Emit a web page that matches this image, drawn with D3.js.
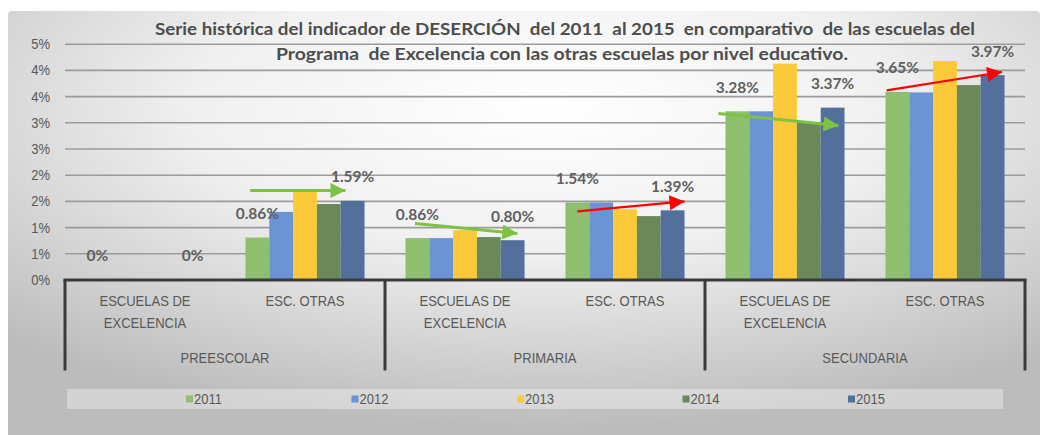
<!DOCTYPE html>
<html><head><meta charset="utf-8">
<script src="https://cdn.jsdelivr.net/npm/d3@7"></script>
<style>html,body{margin:0;padding:0;background:#fff;} svg{display:block;}</style>
</head><body><svg id="c" width="1042" height="435"></svg>
<script>
// ---------- data ----------
const groups = ["PREESCOLAR", "PRIMARIA", "SECUNDARIA"];
const subCategories = ["ESCUELAS DE|EXCELENCIA", "ESC. OTRAS"];
const categories = ["PRE-EXC", "PRE-OTR", "PRI-EXC", "PRI-OTR", "SEC-EXC", "SEC-OTR"];
const years = ["2011", "2012", "2013", "2014", "2015"];
const s2011 = [0, 0.80, 0.79, 1.47, 3.21, 3.58];
const s2012 = [0, 1.29, 0.79, 1.47, 3.21, 3.57];
const s2013 = [0, 1.67, 0.94, 1.34, 4.12, 4.17];
const s2014 = [0, 1.44, 0.81, 1.21, 2.99, 3.71];
const s2015 = [0, 1.50, 0.75, 1.32, 3.28, 3.90];
const labels2011 = ["0%", "0.86%", "0.86%", "1.54%", "3.28%", "3.65%"];
const labels2015 = ["0%", "1.59%", "0.80%", "1.39%", "3.37%", "3.97%"];
const yTicks = [0, 0.5, 1, 1.5, 2, 2.5, 3, 3.5, 4, 4.5];
const titleLines = [
  "Serie histórica del indicador de DESERCIÓN  del 2011  al 2015  en comparativo  de las escuelas del",
  "Programa  de Excelencia con las otras escuelas por nivel educativo."
];
// trend arrows: category index, fraction across the bar cluster, value
const arrows = [
  {cat: 1, f0: 0.04, v0: 1.70, f1: 0.84, v1: 1.70, color: "#7dc242"},
  {cat: 2, f0: 0.08, v0: 1.07, f1: 0.94, v1: 0.88, color: "#7dc242"},
  {cat: 3, f0: 0.10, v0: 1.30, f1: 1.00, v1: 1.49, color: "#ff0000"},
  {cat: 4, f0: -0.06, v0: 3.17, f1: 0.95, v1: 2.94, color: "#7dc242"},
  {cat: 5, f0: 0.01, v0: 3.61, f1: 0.98, v1: 3.96, color: "#ff0000"}
];

// ---------- style ----------
const colors = ["#8dbf6e", "#6b94d6", "#fcc93a", "#69895a", "#53709d"];
const txt = "#595959";
const W = 1042, H = 435;
const plot = {l: 65, r: 1025, t: 43.7, b: 279.5};
const narrow = 0.84; // horizontal squeeze to mimic a condensed face
const catFont = "'Liberation Sans', Arial, sans-serif";

const series = [s2011, s2012, s2013, s2014, s2015];
const svg = d3.select("#c");
const defs = svg.append("defs");
const rg = defs.append("radialGradient").attr("id", "bg")
  .attr("cx", "52%").attr("cy", "22%").attr("r", "75%");
rg.append("stop").attr("offset", "0%").attr("stop-color", "#ffffff");
rg.append("stop").attr("offset", "45%").attr("stop-color", "#f0f0f0");
rg.append("stop").attr("offset", "100%").attr("stop-color", "#bcbcbc");

svg.append("rect").attr("width", W).attr("height", H).attr("fill", "#fff");
svg.append("rect").attr("x", 8).attr("y", 11).attr("width", 1032).attr("height", 430)
  .attr("rx", 4).attr("fill", "url(#bg)");

// scales
const x0 = d3.scaleBand().domain(categories).range([plot.l, plot.r])
  .paddingInner(0.256).paddingOuter(0.128);
const x1 = d3.scaleBand().domain(years).range([0, x0.bandwidth()]).padding(0);
const y = d3.scaleLinear().domain([0, 4.5]).range([plot.b, plot.t]);
const step = x0.step();

// gridlines + y axis
const yAxis = d3.axisLeft(y).tickValues(yTicks).tickSize(-(plot.r - plot.l))
  .tickFormat(d => Math.round(d) + "%");
const ga = svg.append("g").attr("transform", `translate(${plot.l},0)`).call(yAxis);
ga.select(".domain").remove();
ga.selectAll(".tick line").attr("stroke", "#9b9b9b").attr("stroke-width", 1.6);
ga.selectAll(".tick text").attr("x", 0).attr("text-anchor", "end")
  .attr("transform", `translate(-15,0) scale(${narrow},1)`).attr("fill", txt)
  .style("font-family", catFont).style("font-size", "15.5px");

// bars
const gcat = svg.append("g").selectAll("g").data(categories).join("g")
  .attr("transform", d => `translate(${x0(d)},0)`);
gcat.selectAll("rect").data((d, i) => years.map((yr, j) => ({yr, v: series[j][i], j})))
  .join("rect")
  .attr("x", d => x1(d.yr))
  .attr("width", x1.bandwidth())
  .attr("y", d => y(d.v))
  .attr("height", d => plot.b - y(d.v))
  .attr("fill", d => colors[d.j]);

// data labels (2011 and 2015)
const lblFont = "Lato, 'Open Sans', sans-serif";
function addLabels(vals, labels, yr) {
  svg.append("g").selectAll("text").data(categories).join("text")
    .attr("x", (d) => x0(d) + x1(yr) + x1.bandwidth() / 2)
    .attr("y", (d, i) => y(vals[i]) - 24)
    .attr("dy", "0.35em")
    .attr("text-anchor", "middle")
    .attr("fill", "#5f5f5f")
    .style("font-family", lblFont).style("font-weight", "700").style("font-size", "15.5px")
    .text((d, i) => labels[i]);
}
addLabels(s2011, labels2011, "2011");
addLabels(s2015, labels2015, "2015");

// arrows
arrows.forEach((a, k) => {
  defs.append("marker").attr("id", "ah" + k)
    .attr("viewBox", "0 0 10 10").attr("refX", 10).attr("refY", 5)
    .attr("markerUnits", "userSpaceOnUse")
    .attr("markerWidth", 16).attr("markerHeight", 15).attr("orient", "auto")
    .append("path").attr("d", "M0,0 L10,5 L0,10 Z").attr("fill", a.color);
});
svg.append("g").selectAll("line").data(arrows).join("line")
  .attr("x1", d => x0(categories[d.cat]) + d.f0 * x0.bandwidth())
  .attr("y1", d => y(d.v0))
  .attr("x2", d => x0(categories[d.cat]) + d.f1 * x0.bandwidth())
  .attr("y2", d => y(d.v1))
  .attr("stroke", d => d.color)
  .attr("stroke-width", d => d.color === "#ff0000" ? 2.2 : 3)
  .attr("marker-end", (d, i) => `url(#ah${i})`);

// category axis box
const axisColor = "#3a3a3a";
svg.append("line").attr("x1", plot.l - 1.5).attr("x2", plot.r + 1.5)
  .attr("y1", plot.b + 0.5).attr("y2", plot.b + 0.5)
  .attr("stroke", axisColor).attr("stroke-width", 3);
const groupEdges = d3.range(groups.length + 1).map(i => plot.l + i * 2 * step);
svg.append("g").selectAll("line").data(groupEdges).join("line")
  .attr("x1", d => d).attr("x2", d => d)
  .attr("y1", plot.b).attr("y2", plot.b + 91)
  .attr("stroke", axisColor).attr("stroke-width", 3);

// sub-category labels
svg.append("g").selectAll("text").data(categories).join("text")
  .attr("transform", d => `translate(${x0(d) + x0.bandwidth() / 2},${plot.b + 26}) scale(${narrow},1)`)
  .attr("text-anchor", "middle").attr("fill", txt)
  .style("font-family", catFont).style("font-size", "15.5px")
  .each(function(d, i) {
    const lines = subCategories[i % 2].split("|");
    d3.select(this).selectAll("tspan").data(lines).join("tspan")
      .attr("x", 0)
      .attr("dy", (l, k) => k === 0 ? 0 : 23)
      .text(l => l);
  });
// group labels
svg.append("g").selectAll("text").data(groups).join("text")
  .attr("transform", (d, i) => `translate(${plot.l + (i * 2 + 1) * step},${plot.b + 83}) scale(${narrow},1)`)
  .attr("text-anchor", "middle").attr("fill", txt)
  .style("font-family", catFont).style("font-size", "15.5px")
  .text(d => d);

// legend
svg.append("rect").attr("x", 67).attr("y", 389).attr("width", 936).attr("height", 20)
  .attr("fill", "#ffffff").attr("opacity", 0.35);
const lg = svg.append("g").selectAll("g").data(years).join("g")
  .attr("transform", (d, i) => `translate(${186 + i * 165.5},399)`);
lg.append("rect").attr("x", 0).attr("y", -3.5).attr("width", 7).attr("height", 7)
  .attr("fill", (d, i) => colors[i]);
lg.append("text").attr("transform", `translate(8,0) scale(${narrow},1)`)
  .attr("dy", "0.35em").attr("fill", txt)
  .style("font-family", catFont).style("font-size", "15.5px").text(d => d);

// title
svg.append("g").selectAll("text").data(titleLines).join("text")
  .attr("x", (d, i) => i === 0 ? 565 : 562)
  .attr("y", (d, i) => 35 + i * 25)
  .attr("text-anchor", "middle").attr("fill", "#4d4d4d")
  .attr("textLength", (d, i) => i === 0 ? 820 : 572)
  .attr("lengthAdjust", "spacingAndGlyphs")
  .style("white-space", "pre")
  .style("font-family", "Lato, 'Open Sans', sans-serif").style("font-weight", "700").style("font-size", "17px")
  .text(d => d);
</script></body></html>
